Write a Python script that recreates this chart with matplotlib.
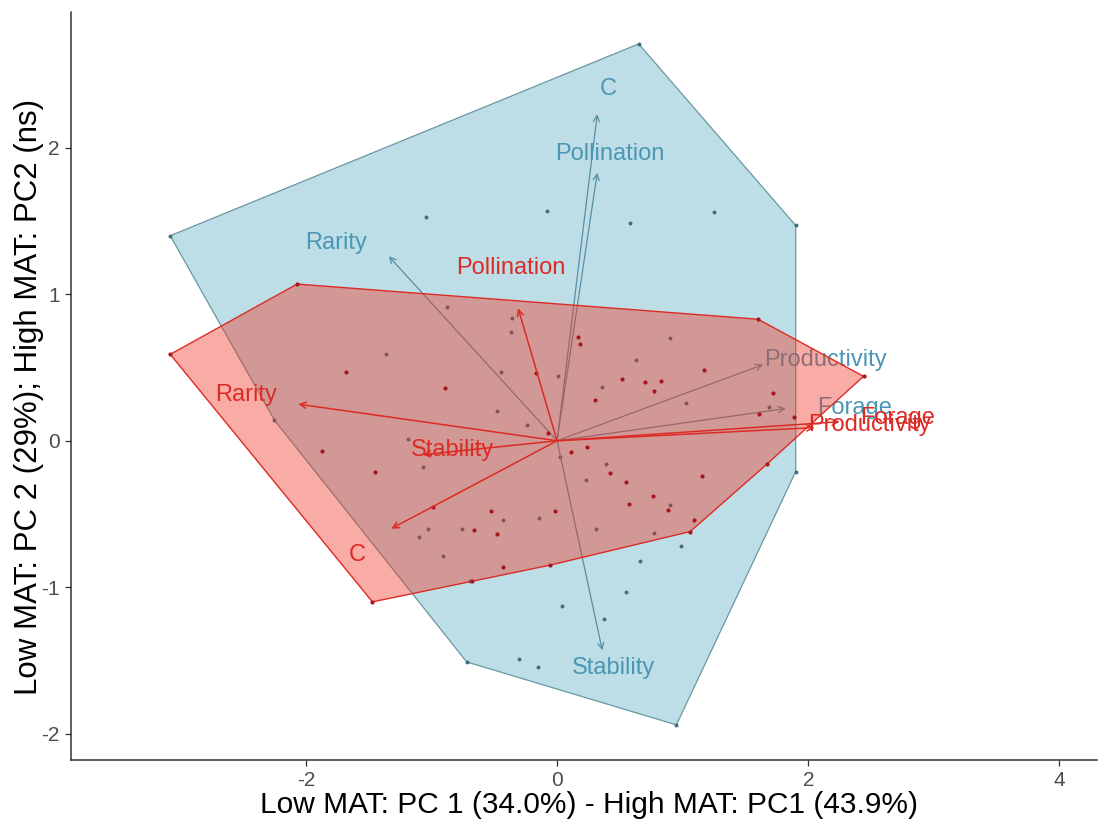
import numpy as np
import matplotlib
matplotlib.use('Agg')
import matplotlib.pyplot as plt
from matplotlib.patches import Polygon

plt.rcParams['font.family'] = ['Liberation Sans', 'DejaVu Sans']
plt.rcParams['axes.unicode_minus'] = False

# site scores, low MAT (blue) group
blue_px = [-3.08, 0.65, 1.90, 1.90, 0.95, -0.72, -2.25,
           -1.04, -0.08, 0.58, 1.25,
           -0.88, -0.36, -0.37, 0.90,
           -1.36, -0.45, -0.48, -0.24, -1.19, -1.07,
           0.01, 0.63, 0.36, 1.03, 1.69,
           0.02, 0.23, 0.39,
           -0.14, -0.43, 0.31, -1.03, -0.76, -1.10, -0.91, -0.69,
           0.90, 0.77,
           0.99, 0.66, 0.55, 0.04, 0.37, -0.30, -0.15]
blue_py = [1.40, 2.71, 1.47, -0.21, -1.94, -1.51, 0.14,
           1.53, 1.57, 1.49, 1.56,
           0.91, 0.84, 0.74, 0.70,
           0.59, 0.47, 0.205, 0.11, 0.01, -0.18,
           0.44, 0.55, 0.37, 0.26, 0.23,
           -0.11, -0.27, -0.16,
           -0.53, -0.54, -0.60, -0.60, -0.60, -0.66, -0.79, -0.96,
           -0.44, -0.63,
           -0.72, -0.82, -1.03, -1.13, -1.22, -1.49, -1.545]

# site scores, high MAT (red) group
red_px = [-3.08, -2.07, 1.60, 2.44, 1.06, -1.47, 1.67, -0.06, -0.68,
          0.17, 0.18, -1.68, -0.89, -0.17, -0.07, -1.87, -1.45, 0.30,
          0.11, 0.24, -0.99, -0.53, -0.02, -0.66, -0.48, -0.43,
          1.17, 0.52, 0.70, 0.83, 0.77, 1.72, 1.61, 1.89,
          0.42, 1.15, 0.55, 0.76, 0.57, 0.88, 1.09]
red_py = [0.59, 1.07, 0.83, 0.44, -0.62, -1.10, -0.16, -0.85, -0.956,
          0.71, 0.66, 0.47, 0.36, 0.46, 0.05, -0.07, -0.21, 0.275,
          -0.08, -0.04, -0.45, -0.48, -0.48, -0.61, -0.64, -0.86,
          0.485, 0.42, 0.40, 0.405, 0.34, 0.325, 0.18, 0.16,
          -0.22, -0.24, -0.28, -0.38, -0.43, -0.47, -0.54]

# variable loadings (arrow tips) and where their names sit
blue_vars = ['C', 'Pollination', 'Rarity', 'Productivity', 'Forage', 'Stability']
blue_vx = [0.32, 0.32, -1.34, 1.64, 1.82, 0.36]
blue_vy = [2.23, 1.83, 1.26, 0.52, 0.22, -1.43]
blue_lx = [0.41, 0.42, -1.76, 2.14, 2.37, 0.45]
blue_ly = [2.40, 1.96, 1.35, 0.55, 0.225, -1.55]

red_vars = ['Rarity', 'Pollination', 'C', 'Stability', 'Productivity', 'Forage']
red_vx = [-2.06, -0.31, -1.32, -1.07, 2.05, 2.25]
red_vy = [0.25, 0.905, -0.60, -0.095, 0.09, 0.13]
red_lx = [-2.48, -0.37, -1.59, -0.83, 2.49, 2.71]
red_ly = [0.31, 1.18, -0.78, -0.06, 0.11, 0.155]


def hull(xs, ys):
    pts = sorted(set(zip(xs, ys)))
    def cross(o, a, b):
        return (a[0]-o[0])*(b[1]-o[1]) - (a[1]-o[1])*(b[0]-o[0])
    lower, upper = [], []
    for p in pts:
        while len(lower) >= 2 and cross(lower[-2], lower[-1], p) <= 0:
            lower.pop()
        lower.append(p)
    for p in reversed(pts):
        while len(upper) >= 2 and cross(upper[-2], upper[-1], p) <= 0:
            upper.pop()
        upper.append(p)
    return lower[:-1] + upper[:-1]


BLUE_TXT = '#4a96b4'
BLUE_LINE = '#5a8ea3'
RED = '#dc2b25'

fig = plt.figure(figsize=(11.01, 8.22), dpi=100)
ax = fig.add_axes([0.0645, 0.0754, 0.932, 0.9104])

# low MAT group
ax.add_patch(Polygon(hull(blue_px, blue_py), closed=True, fc='#bddee6',
                     ec='#6a97a3', lw=0.9, zorder=1))
ax.scatter(blue_px, blue_py, s=8, c='#3e6f7c', zorder=2, linewidths=0)
for tx, ty, lx, ly, name in zip(blue_vx, blue_vy, blue_lx, blue_ly, blue_vars):
    ax.annotate('', xy=(tx, ty), xytext=(0, 0),
                arrowprops=dict(arrowstyle='->', color=BLUE_LINE, lw=0.9,
                                shrinkA=0, shrinkB=0, mutation_scale=11),
                zorder=3)
    ax.text(lx, ly, name, color=BLUE_TXT, fontsize=17, ha='center', va='center', zorder=3)

# high MAT group, drawn over the first with transparency
ax.add_patch(Polygon(hull(red_px, red_py), closed=True, fc='#f2301e', alpha=0.4,
                     ec='none', zorder=4))
ax.add_patch(Polygon(hull(red_px, red_py), closed=True, fill=False,
                     ec=RED, lw=1.0, zorder=4))
ax.scatter(red_px, red_py, s=9, c='#a8161a', zorder=5, linewidths=0)
for tx, ty, lx, ly, name in zip(red_vx, red_vy, red_lx, red_ly, red_vars):
    ax.annotate('', xy=(tx, ty), xytext=(0, 0),
                arrowprops=dict(arrowstyle='->', color=RED, lw=1.1,
                                shrinkA=0, shrinkB=0, mutation_scale=11),
                zorder=6)
    ax.text(lx, ly, name, color=RED, fontsize=17, ha='center', va='center', zorder=6)

ax.set_xlim(-3.87, 4.30)
ax.set_ylim(-2.18, 2.93)
ax.set_xticks([-2, 0, 2, 4])
ax.set_yticks([-2, -1, 0, 1, 2])
for s in ['top', 'right']:
    ax.spines[s].set_visible(False)
for s in ['left', 'bottom']:
    ax.spines[s].set_color('#333333')
    ax.spines[s].set_linewidth(1.1)
ax.tick_params(length=4, width=0.9, color='#333333', labelcolor='#4d4d4d',
               labelsize=15, pad=4)

ax.set_xlabel('Low MAT: PC 1 (34.0%) - High MAT: PC1 (43.9%)', fontsize=21.5)
ax.set_ylabel('Low MAT: PC 2 (29%); High MAT: PC2 (ns)', fontsize=22.5)
ax.xaxis.set_label_coords(0.505, -0.042)
ax.yaxis.set_label_coords(-0.026, 0.485)

fig.savefig('out.png', dpi=100)
